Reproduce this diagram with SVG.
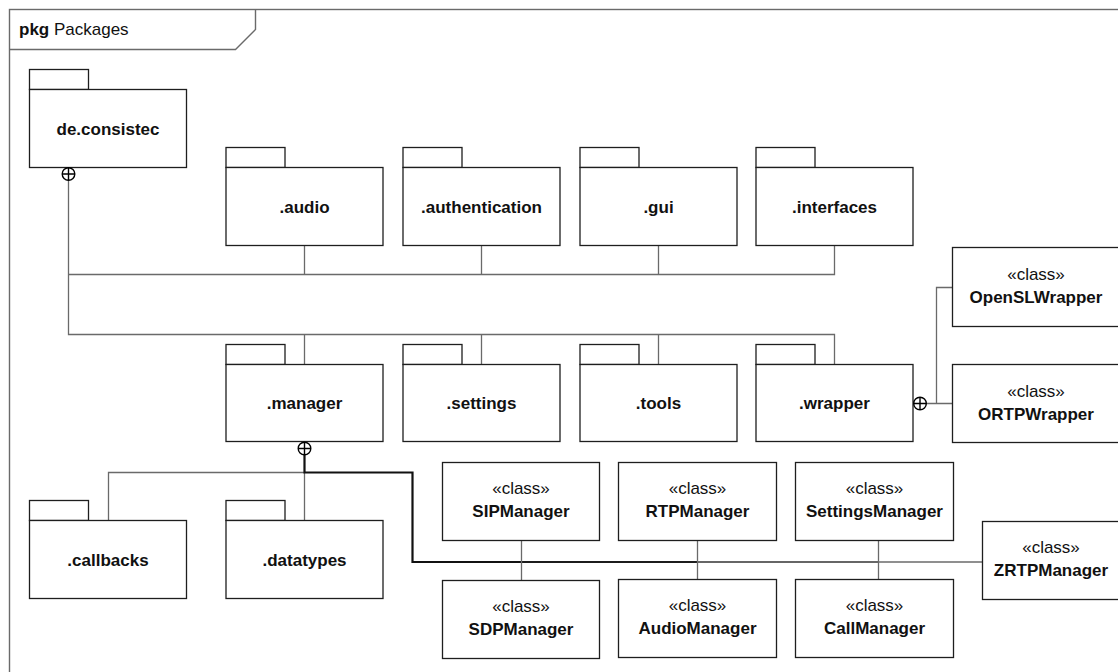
<svg xmlns="http://www.w3.org/2000/svg" width="1118" height="672" viewBox="0 0 1118 672">
  <style>
    .frame { fill: none; stroke: #6a6a6a; stroke-width: 1.4; }
    .box { fill: #ffffff; stroke: #1e1e1e; stroke-width: 1.3; }
    .tab { fill: #ffffff; stroke: #1e1e1e; stroke-width: 1.3; }
    .lbl { font-family: "Liberation Sans", Arial, sans-serif; font-size: 17px; font-weight: bold; fill: #111; text-anchor: middle; }
    .st { font-family: "Liberation Sans", Arial, sans-serif; font-size: 17px; fill: #111; text-anchor: middle; }
    .conn { fill: none; stroke: #6a6a6a; stroke-width: 1.3; }
    .own { fill: #ffffff; stroke: #000; stroke-width: 1.4; }
  </style>
  <defs>
    <!-- containment ("owned by") marker: circle with a cross -->
    <g id="nest">
      <circle class="own" cx="0" cy="0" r="6.3"/>
      <path d="M-6.3,0 H6.3 M0,-6.3 V6.3" stroke="#000" stroke-width="1.4"/>
    </g>
  </defs>

  <rect width="1118" height="672" fill="#ffffff"/>

  <!-- diagram frame -->
  <g id="frame">
    <rect class="frame" x="9.5" y="9.5" width="1130" height="680"/>
    <path class="frame" d="M9.5,49.5 H235.5 L255.5,29.5 V9.5"/>
    <text x="19" y="35" font-family="Liberation Sans, Arial, sans-serif" font-size="17" fill="#111"><tspan font-weight="bold">pkg</tspan> Packages</text>
  </g>

  <!-- connectors -->
  <g id="connectors">
    <!-- de.consistec to sub packages -->
    <path class="conn" d="M68.5,180 V334.5 H834.5 V364"/>
    <path class="conn" d="M68.5,274.5 H834.5 V245"/>
    <path class="conn" d="M304.5,245 V274.5 M481.5,245 V274.5 M658.5,245 V274.5"/>
    <path class="conn" d="M304.5,334.5 V364 M481.5,334.5 V364 M658.5,334.5 V364"/>

    <!-- .wrapper to its classes -->
    <path class="conn" d="M926,403.5 H952 M936.5,403.5 V287.5 H952"/>

    <!-- .manager to sub packages -->
    <path class="conn" d="M304.5,472.5 V520 M304.5,472.5 H108.5 V520"/>

    <!-- .manager to its classes (bundled route) -->
    <path fill="none" stroke="#111" stroke-width="2.2" d="M304.5,455 V472.5 H412.5 V562 H521.5"/>
    <path fill="none" stroke="#1c1c1c" stroke-width="2" d="M521.5,562 H697.5"/>
    <path fill="none" stroke="#333" stroke-width="1.6" d="M697.5,562 H878.5"/>
    <path class="conn" d="M878.5,562 H982"/>
    <path class="conn" d="M521.5,540 V580 M697.5,540 V579 M878.5,540 V579"/>
  </g>

  <!-- packages -->
  <g id="pkg-de-consistec">
    <rect class="tab" x="29.5" y="69.5" width="59" height="20"/>
    <rect class="box" x="29.5" y="89.5" width="157" height="78"/>
    <text class="lbl" x="108" y="135">de.consistec</text>
    <use href="#nest" x="68.5" y="174"/>
  </g>
  <g id="pkg-audio">
    <rect class="tab" x="226" y="147.5" width="59" height="20"/>
    <rect class="box" x="226" y="167.5" width="157" height="78"/>
    <text class="lbl" x="304.5" y="213">.audio</text>
  </g>
  <g id="pkg-authentication">
    <rect class="tab" x="403" y="147.5" width="59" height="20"/>
    <rect class="box" x="403" y="167.5" width="157" height="78"/>
    <text class="lbl" x="481.5" y="213">.authentication</text>
  </g>
  <g id="pkg-gui">
    <rect class="tab" x="580" y="147.5" width="59" height="20"/>
    <rect class="box" x="580" y="167.5" width="157" height="78"/>
    <text class="lbl" x="658.5" y="213">.gui</text>
  </g>
  <g id="pkg-interfaces">
    <rect class="tab" x="756" y="147.5" width="59" height="20"/>
    <rect class="box" x="756" y="167.5" width="157" height="78"/>
    <text class="lbl" x="834.5" y="213">.interfaces</text>
  </g>

  <g id="pkg-manager">
    <rect class="tab" x="226" y="344.5" width="59" height="20"/>
    <rect class="box" x="226" y="364.5" width="157" height="77"/>
    <text class="lbl" x="304.5" y="409">.manager</text>
    <use href="#nest" x="304.5" y="448.5"/>
  </g>
  <g id="pkg-settings">
    <rect class="tab" x="403" y="344.5" width="59" height="20"/>
    <rect class="box" x="403" y="364.5" width="157" height="77"/>
    <text class="lbl" x="481.5" y="409">.settings</text>
  </g>
  <g id="pkg-tools">
    <rect class="tab" x="580" y="344.5" width="59" height="20"/>
    <rect class="box" x="580" y="364.5" width="157" height="77"/>
    <text class="lbl" x="658.5" y="409">.tools</text>
  </g>
  <g id="pkg-wrapper">
    <rect class="tab" x="756" y="344.5" width="59" height="20"/>
    <rect class="box" x="756" y="364.5" width="157" height="77"/>
    <text class="lbl" x="834.5" y="409">.wrapper</text>
    <use href="#nest" x="920" y="403.5"/>
  </g>

  <g id="pkg-callbacks">
    <rect class="tab" x="29.5" y="500.5" width="59" height="20"/>
    <rect class="box" x="29.5" y="520.5" width="157" height="78"/>
    <text class="lbl" x="108" y="566">.callbacks</text>
  </g>
  <g id="pkg-datatypes">
    <rect class="tab" x="226" y="500.5" width="59" height="20"/>
    <rect class="box" x="226" y="520.5" width="157" height="78"/>
    <text class="lbl" x="304.5" y="566">.datatypes</text>
  </g>

  <!-- classes -->
  <g id="cls-openslwrapper">
    <rect class="box" x="952.5" y="247.5" width="170" height="79"/>
    <text class="st" x="1036" y="280">«class»</text>
    <text class="lbl" x="1036" y="303">OpenSLWrapper</text>
  </g>
  <g id="cls-ortpwrapper">
    <rect class="box" x="952.5" y="364.5" width="170" height="78"/>
    <text class="st" x="1036" y="397">«class»</text>
    <text class="lbl" x="1036" y="420">ORTPWrapper</text>
  </g>

  <g id="cls-sipmanager">
    <rect class="box" x="442.5" y="462.5" width="157" height="78"/>
    <text class="st" x="521" y="494">«class»</text>
    <text class="lbl" x="521" y="517">SIPManager</text>
  </g>
  <g id="cls-rtpmanager">
    <rect class="box" x="618.5" y="462.5" width="158" height="78"/>
    <text class="st" x="697.5" y="494">«class»</text>
    <text class="lbl" x="697.5" y="517">RTPManager</text>
  </g>
  <g id="cls-settingsmanager">
    <rect class="box" x="795.5" y="462.5" width="158" height="78"/>
    <text class="st" x="874.5" y="494">«class»</text>
    <text class="lbl" x="874.5" y="517">SettingsManager</text>
  </g>
  <g id="cls-zrtpmanager">
    <rect class="box" x="982.5" y="521.5" width="140" height="78"/>
    <text class="st" x="1051" y="553">«class»</text>
    <text class="lbl" x="1051" y="576">ZRTPManager</text>
  </g>
  <g id="cls-sdpmanager">
    <rect class="box" x="442.5" y="580.5" width="157" height="78"/>
    <text class="st" x="521" y="612">«class»</text>
    <text class="lbl" x="521" y="635">SDPManager</text>
  </g>
  <g id="cls-audiomanager">
    <rect class="box" x="618.5" y="579.5" width="158" height="78"/>
    <text class="st" x="697.5" y="611">«class»</text>
    <text class="lbl" x="697.5" y="634">AudioManager</text>
  </g>
  <g id="cls-callmanager">
    <rect class="box" x="795.5" y="579.5" width="158" height="78"/>
    <text class="st" x="874.5" y="611">«class»</text>
    <text class="lbl" x="874.5" y="634">CallManager</text>
  </g>
</svg>
